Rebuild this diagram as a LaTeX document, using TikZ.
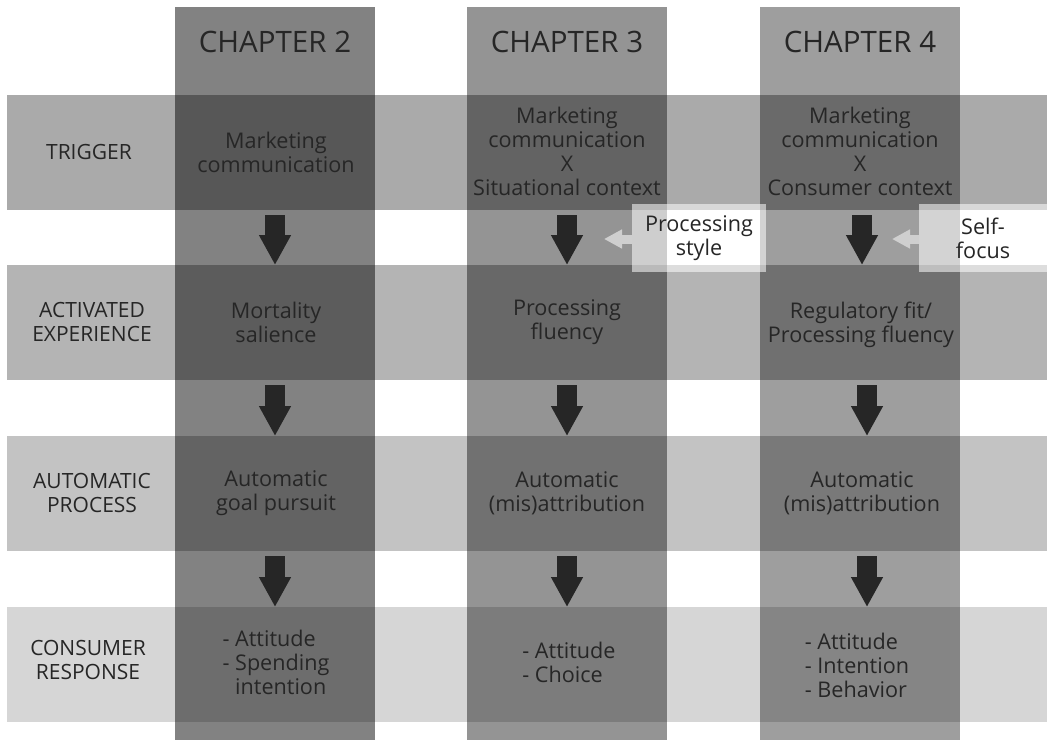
\documentclass[tikz,border=0pt]{standalone}
\usepackage{fontspec}
\setmainfont{Open Sans}
\usetikzlibrary{arrows.meta}
\definecolor{inkgray}{HTML}{262626}
\definecolor{arrowgray}{HTML}{262626}
\definecolor{lightarrow}{gray}{0.81}
\begin{document}
\begin{tikzpicture}[x=1pt,y=-1pt,
  cell/.style={font=\fontsize{21.6}{24}\selectfont, text=inkgray, align=center, inner sep=0pt},
  listcell/.style={cell, align=left},
  rowlabel/.style={font=\fontsize{21}{24}\selectfont, text=inkgray, align=center, inner sep=0pt},
  chapter/.style={font=\fontsize{29.5}{30}\selectfont, text=inkgray, inner sep=0pt},
  flow/.style={draw=arrowgray, line width=20pt, line cap=butt,
    -{Triangle[width=30pt,length=30pt]}},
  moderator/.style={fill=white, fill opacity=0.55, text opacity=1, draw=none,
    font=\fontsize{21.6}{24}\selectfont, text=inkgray, align=center, inner sep=0pt},
  sidearrow/.style={draw=lightarrow, line width=9pt, line cap=butt,
    -{Triangle[width=18pt,length=18pt]}}
]
\useasboundingbox (0,0) rectangle (1047,740);
\fill[white] (0,0) rectangle (1047,740);

% grey levels of the four stages and three chapters
\def\rowtop{{95,265,436,607}}
\def\rowlev{{0.667,0.706,0.765,0.84}}
\def\colleft{{175,467,760}}
\def\collev{{0.51,0.58,0.62}}

% stage bands
\foreach \r in {0,1,2,3}{
  \pgfmathsetmacro\yt{\rowtop[\r]}
  \pgfmathsetmacro\lv{\rowlev[\r]}
  \definecolor{bandc}{gray}{\lv}
  \fill[bandc] (7,\yt) rectangle (1047,\yt+115);
}
% chapter columns
\foreach \c in {0,1,2}{
  \pgfmathsetmacro\xl{\colleft[\c]}
  \pgfmathsetmacro\lv{\collev[\c]}
  \definecolor{colc}{gray}{\lv}
  \fill[colc] (\xl,7) rectangle (\xl+200,740);
}
% where a column crosses a band the two greys multiply
\foreach \c in {0,1,2}{
  \foreach \r in {0,1,2,3}{
    \pgfmathsetmacro\xl{\colleft[\c]}
    \pgfmathsetmacro\yt{\rowtop[\r]}
    \pgfmathsetmacro\lv{\collev[\c]*\rowlev[\r]}
    \definecolor{cellc}{gray}{\lv}
    \fill[cellc] (\xl,\yt) rectangle (\xl+200,\yt+115);
  }
}

% chapter headings
\node[chapter] (ch2) at (275,42) {CHAPTER 2};
\node[chapter] (ch3) at (567,42) {CHAPTER 3};
\node[chapter] (ch4) at (860,42) {CHAPTER 4};

% stage labels
\node[rowlabel] (trigger) at (89,152) {TRIGGER};
\node[rowlabel] (activated) at (92,322) {ACTIVATED\\EXPERIENCE};
\node[rowlabel] (automatic) at (92,493) {AUTOMATIC\\PROCESS};
\node[rowlabel] (response) at (88,660) {CONSUMER\\RESPONSE};

% chapter 2
\node[cell] (t2) at (276,152) {Marketing\\communication};
\node[cell] (e2) at (276,322) {Mortality\\salience};
\node[cell] (p2) at (276,493) {Automatic\\goal pursuit};
\node[listcell] (r2) at (276,662) {- Attitude\\- Spending\\\phantom{- }intention};

% chapter 3
\node[cell] (t3) at (567,151) {Marketing\\communication\\X\\Situational context};
\node[cell] (e3) at (567,322) {Processing\\fluency};
\node[cell] (p3) at (567,493) {Automatic\\(mis)attribution};
\node[listcell] (r3) at (569,662) {- Attitude\\- Choice};

% chapter 4
\node[cell] (t4) at (860,151) {Marketing\\communication\\X\\Consumer context};
\node[cell] (e4) at (861,325) {Regulatory fit/\\Processing fluency};
\node[cell] (p4) at (862,493) {Automatic\\(mis)attribution};
\node[listcell] (r4) at (857,665) {- Attitude\\- Intention\\- Behavior};

% arrow anchors: each arrow starts just below a band and ends on the next one
\foreach \n/\x in {2/275,3/567,4/862}{
  \coordinate (s1-\n) at (\x,215);
  \coordinate (e1-\n) at (\x,265);
}
\foreach \n/\x in {2/275,3/567,4/867}{
  \coordinate (s2-\n) at (\x,385);
  \coordinate (e2-\n) at (\x,436);
  \coordinate (s3-\n) at (\x,556);
  \coordinate (e3-\n) at (\x,607);
}
\foreach \n in {2,3,4}{
  \draw[flow] (s1-\n) -- (e1-\n);
  \draw[flow] (s2-\n) -- (e2-\n);
  \draw[flow] (s3-\n) -- (e3-\n);
}

% moderators
\node[moderator, minimum width=134pt, minimum height=68pt] (style) at (699,238) {Processing\\style};
\node[moderator, minimum width=128pt, minimum height=68pt] (focus) at (983,238) {Self-\\focus};
\coordinate (styletip) at (604,239);
\coordinate (focustip) at (892,239);
\draw[sidearrow] (style.west |- styletip) -- (styletip);
\draw[sidearrow] (focus.west |- focustip) -- (focustip);
\end{tikzpicture}
\end{document}
